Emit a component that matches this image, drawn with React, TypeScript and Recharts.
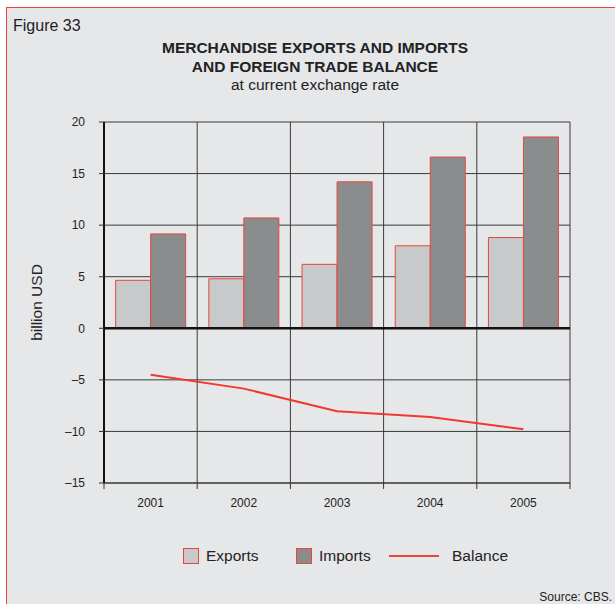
import { Bar, CartesianGrid, ComposedChart, Line, ReferenceLine, XAxis, YAxis } from 'recharts'

const years = ['2001', '2002', '2003', '2004', '2005'];
const exportsBn = [4.65, 4.8, 6.2, 8.0, 8.8];
const importsBn = [9.15, 10.7, 14.2, 16.6, 18.55];
const balanceBn = [-4.5, -5.85, -8.05, -8.6, -9.8];
const yTicks = [-15, -10, -5, 0, 5, 10, 15, 20];

const data = years.map((year, i) => ({
  year,
  exports: exportsBn[i],
  imports: importsBn[i],
  balance: balanceBn[i],
}));

const FONT = '"Liberation Sans", Arial, Helvetica, sans-serif';
const RED = '#e8463b';

const legendItems = [
  { name: 'Exports', kind: 'box', fill: '#c8c9cb', left: 183 },
  { name: 'Imports', kind: 'box', fill: '#8b8c8e', left: 296 },
  { name: 'Balance', kind: 'line', fill: RED, left: 389 },
];

const fmt = (v: number) => (v < 0 ? `\u2013${Math.abs(v)}` : `${v}`);

// tick marks sit on the band edges, labels in the band centre
function YearTick(props: any) {
  const { x, y, payload, index, visibleTicksCount } = props;
  const half = payload.offset ?? 0;
  const isLast = index === visibleTicksCount - 1;
  return (
    <g>
      <line x1={x - half} y1={y} x2={x - half} y2={y + 6} stroke="#333" />
      {isLast && <line x1={x + half} y1={y} x2={x + half} y2={y + 6} stroke="#333" />}
      <text x={x} y={y + 24} textAnchor="middle" fontSize={12} fill="#222" fontFamily={FONT}>
        {payload.value}
      </text>
    </g>
  );
}

export default function App() {
  return (
    <div style={{ position: 'absolute', left: 0, top: 0, width: 615, height: 604, background: '#fff', fontFamily: FONT, overflow: 'hidden' }}>
      <div style={{ position: 'absolute', left: 6, top: 7, width: 609, height: 597, background: '#e6e7e9', borderTop: `1px solid ${RED}`, borderLeft: `1px solid ${RED}` }} />

      <div style={{ position: 'absolute', left: 13, top: 17, fontSize: 16, color: '#222' }}>Figure 33</div>
      <div style={{ position: 'absolute', left: 0, width: 630, top: 39, textAlign: 'center', color: '#222', lineHeight: '18.5px' }}>
        <div style={{ fontSize: 15.5, fontWeight: 'bold' }}>MERCHANDISE EXPORTS AND IMPORTS</div>
        <div style={{ fontSize: 15.5, fontWeight: 'bold' }}>AND FOREIGN TRADE BALANCE</div>
        <div style={{ fontSize: 15.5 }}>at current exchange rate</div>
      </div>

      <div style={{ position: 'absolute', left: 0, top: 0 }}>
        <ComposedChart
          width={615}
          height={604}
          data={data}
          margin={{ top: 122, right: 45, left: 0, bottom: 91 }}
          barCategoryGap="12.5%"
          barGap={0}
        >
          <CartesianGrid
            stroke="#3a3a3a"
            strokeWidth={1}
            verticalCoordinatesGenerator={({ offset }: any) =>
              [0, ...years.map((_, i) => i + 1)].map((i) => offset.left + (i * offset.width) / years.length)
            }
          />
          <XAxis
            dataKey="year"
            axisLine={{ stroke: '#333' }}
            tickLine={false}
            tickSize={0}
            tickMargin={0}
            height={30}
            interval={0}
            tick={<YearTick />}
          />
          <YAxis
            width={104}
            domain={[-15, 20]}
            ticks={yTicks}
            tickFormatter={fmt}
            axisLine={{ stroke: '#111', strokeWidth: 2 }}
            tickLine={{ stroke: '#333' }}
            tickSize={5}
            tickMargin={14}
            tick={{ fontSize: 12, fill: '#222', fontFamily: FONT }}
            label={{ value: 'billion USD', angle: -90, position: 'insideLeft', offset: 36, style: { textAnchor: 'middle', fontSize: 15.5, fill: '#222', fontFamily: FONT } }}
          />
          <Bar dataKey="exports" fill="#c8c9cb" stroke={RED} strokeWidth={1} isAnimationActive={false} />
          <Bar dataKey="imports" fill="#8b8c8e" stroke={RED} strokeWidth={1} isAnimationActive={false} />
          <ReferenceLine y={0} stroke="#111" strokeWidth={2.5} />
          <Line dataKey="balance" type="linear" stroke="#ef3a2d" strokeWidth={2} dot={false} isAnimationActive={false} />
        </ComposedChart>
      </div>

      {legendItems.map((item) => (
        <div key={item.name} style={{ position: 'absolute', left: item.left, top: 547, height: 18, display: 'flex', alignItems: 'center', fontSize: 15.5, color: '#222' }}>
          {item.kind === 'box' ? (
            <div style={{ width: 14, height: 14, background: item.fill, border: `1px solid ${RED}`, marginRight: 7 }} />
          ) : (
            <div style={{ width: 50, height: 2, background: item.fill, marginRight: 13 }} />
          )}
          <span>{item.name}</span>
        </div>
      ))}

      <div style={{ position: 'absolute', right: 3, top: 590, fontSize: 12, color: '#222' }}>Source: CBS.</div>
    </div>
  );
}
